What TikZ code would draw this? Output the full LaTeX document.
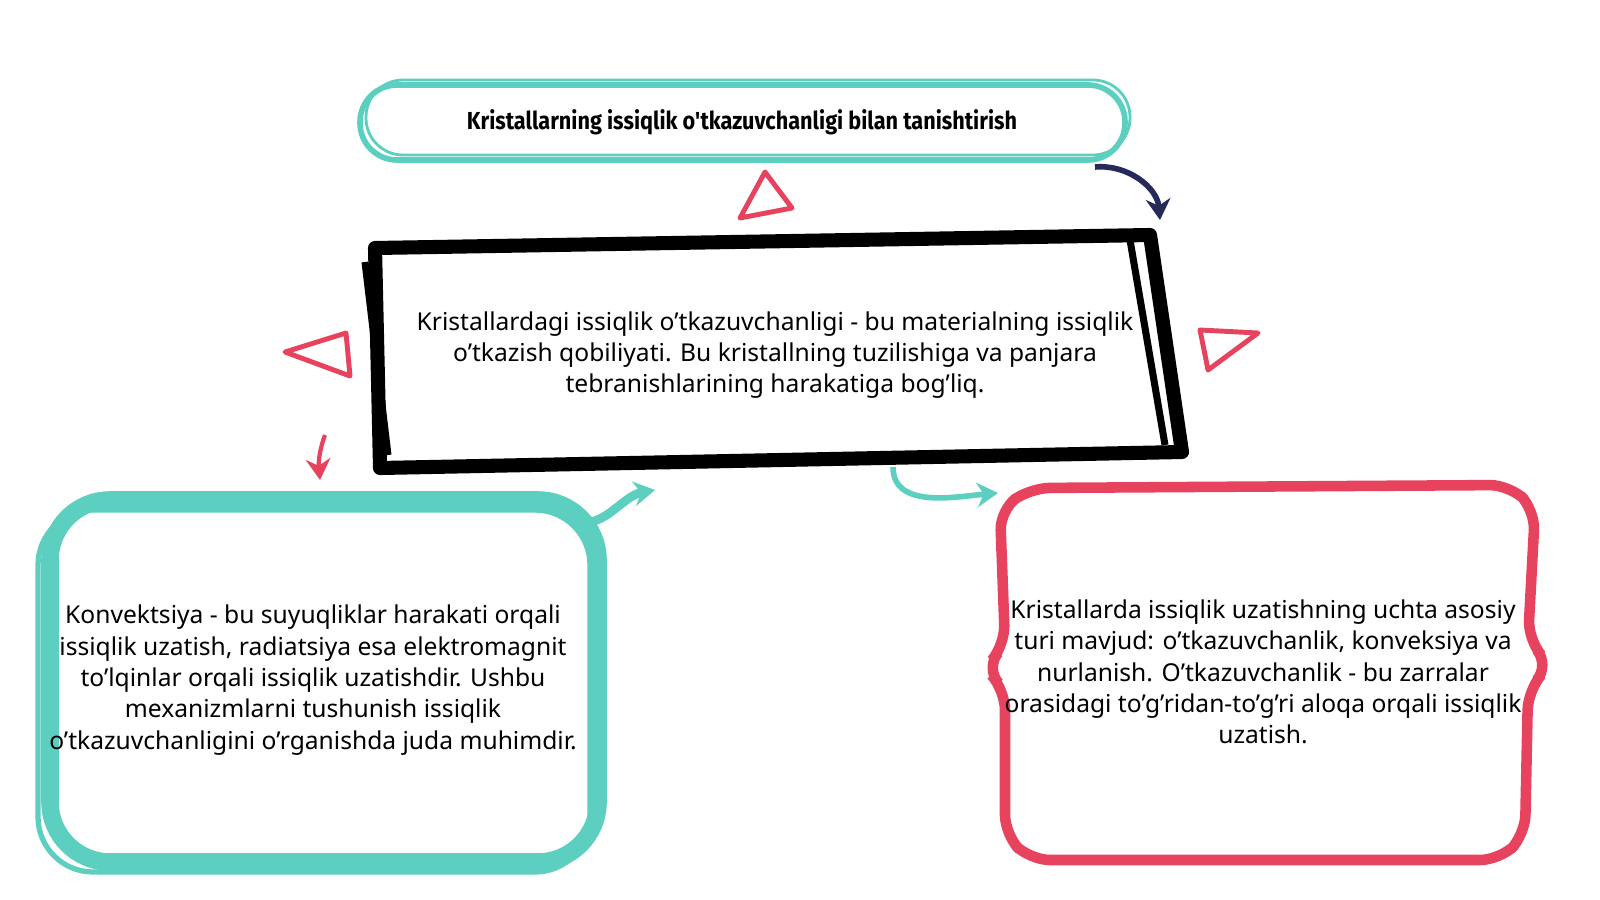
\documentclass[tikz,border=0pt]{standalone}
\usepackage{fontspec}
\setmainfont{Noto Sans}
\newfontfamily\titlefont[FakeStretch=0.88]{Fira Sans}
\usetikzlibrary{arrows.meta,positioning}
\definecolor{teal}{HTML}{5CCFC0}
\definecolor{rosered}{HTML}{E8435E}
\definecolor{navy}{HTML}{262A5A}
\tikzset{
    bodytext/.style={align=center, font=\fontsize{7}{8.9}\selectfont},
    tri/.style={draw=rosered, line width=1.4pt, line join=round},
    curvy/.style={line width=1.6pt, -{Stealth[length=6pt,width=7pt]}}
}
\begin{document}
\begin{tikzpicture}[x=0.01cm, y=-0.01cm]
    \useasboundingbox (0,0) rectangle (1600,900);

% title
    \draw[teal, line width=1.6pt, rounded corners=0.37cm] (360,85) rectangle (1125,160);
    \draw[teal, line width=0.8pt, rounded corners=0.37cm] (366,80) rectangle (1130,155);
    \node[font=\titlefont\bfseries\fontsize{7}{8}\selectfont] (title) at (742,122)
        {Kristallarning issiqlik o'tkazuvchanligi bilan tanishtirish};

% main
    \draw[black, line width=4pt, line join=round] (375,248) -- (1150,235) -- (1182,452) -- (380,468) -- cycle;
    \draw[black, line width=2pt] (365,262) -- (388,455);
    \draw[black, line width=2pt] (1130,240) -- (1165,445);
    \node[bodytext] (main) at (775,355)
        {Kristallardagi issiqlik o'tkazuvchanligi - bu materialning issiqlik\\
         o'tkazish qobiliyati. Bu kristallning tuzilishiga va panjara\\
         tebranishlarining harakatiga bog'liq.};

% left
    \draw[teal, line width=5pt, rounded corners=0.6cm] (50,500) rectangle (598,862);
    \draw[teal, line width=1.5pt, rounded corners=0.55cm] (38,510) rectangle (590,872);
    \node[bodytext] (left) at (313,680)
        {Konvektsiya - bu suyuqliklar harakati orqali\\
         issiqlik uzatish, radiatsiya esa elektromagnit\\
         to'lqinlar orqali issiqlik uzatishdir. Ushbu\\
         mexanizmlarni tushunish issiqlik\\
         o'tkazuvchanligini o'rganishda juda muhimdir.};

% right
    \draw[rosered, line width=3pt, rounded corners=0.2cm]
        (1030,488) -- (1510,485) -- (1535,510) -- (1528,640) -- (1550,665)
        -- (1528,690) -- (1525,835) -- (1500,860) -- (1030,860) -- (1005,835)
        -- (1005,690) -- (985,668) -- (1005,645) -- (1000,510) -- cycle;
    \node[bodytext] (right) at (1263,672)
        {Kristallarda issiqlik uzatishning uchta asosiy\\
         turi mavjud: o'tkazuvchanlik, konveksiya va\\
         nurlanish. O'tkazuvchanlik - bu zarralar\\
         orasidagi to'g'ridan-to'g'ri aloqa orqali issiqlik\\
         uzatish.};

% triangles
    \draw[tri] (765,172) -- (792,208) -- (740,218) -- cycle;
    \draw[tri] (285,352) -- (346,333) -- (350,376) -- cycle;
    \draw[tri] (1200,330) -- (1258,333) -- (1208,370) -- cycle;

% arrows
    \coordinate (n1) at (1095,167);
    \coordinate (n2) at (1160,220);
    \draw[curvy, navy] (n1) to[out=5, in=95] (n2);
    \coordinate (r1) at (325,435);
    \coordinate (r2) at (320,480);
    \draw[curvy, rosered, line width=1.2pt] (r1) to[out=250, in=95] (r2);
    \coordinate (t1) at (570,518);
    \coordinate (t2) at (655,490);
    \draw[curvy, teal, line width=2.5pt] (t1) to[out=-30, in=190] (t2);
    \coordinate (g1) at (893,467);
    \coordinate (g2) at (998,493);
    \draw[curvy, teal] (g1) to[out=270, in=185] (g2);
\end{tikzpicture}
\end{document}
